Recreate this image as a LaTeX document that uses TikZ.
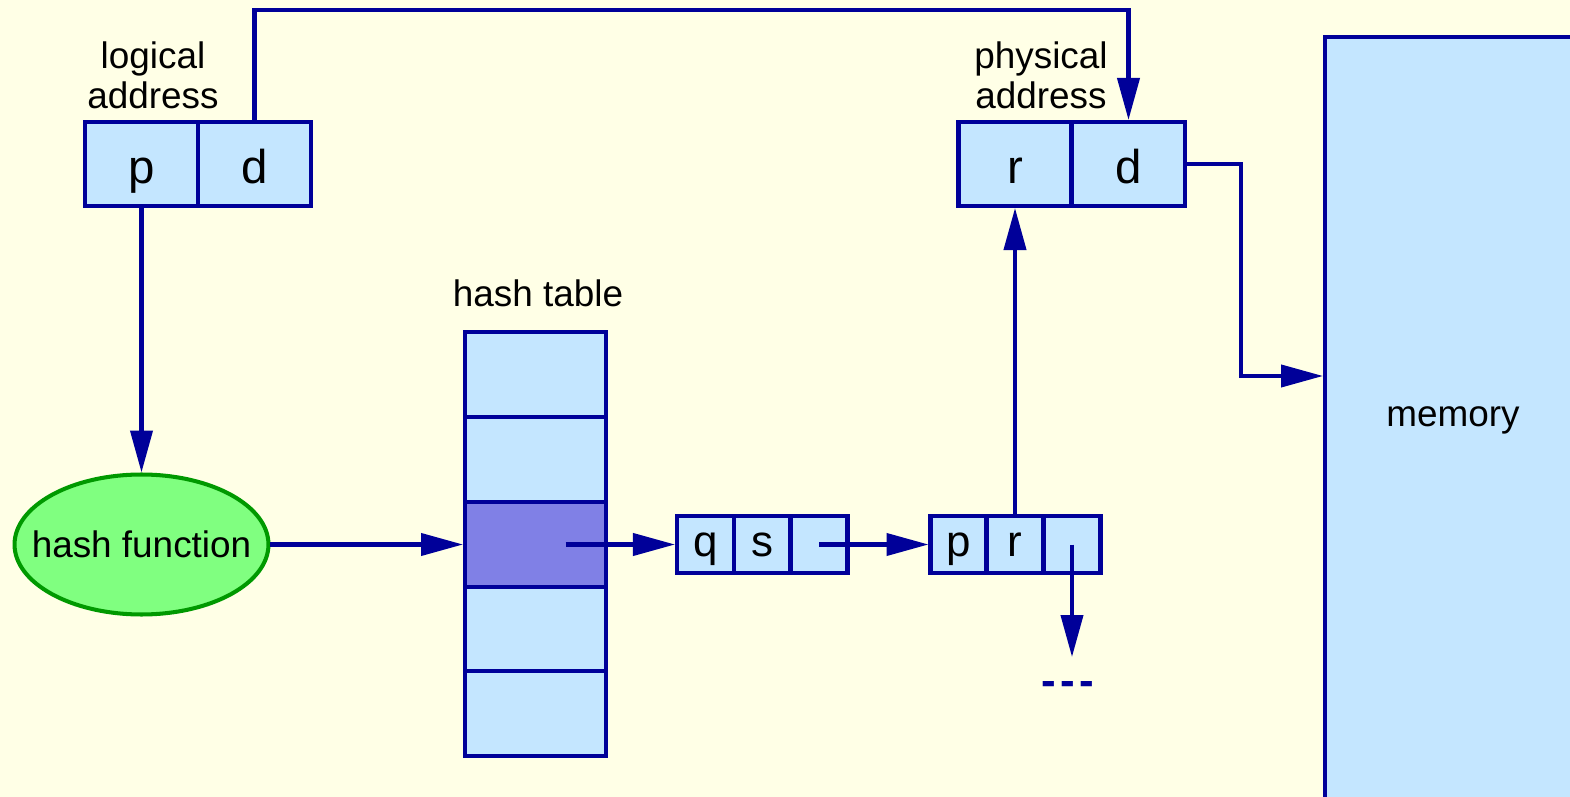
\documentclass[tikz,border=0pt]{standalone}
\usepackage{fontspec}
\setmainfont{Liberation Sans}
\definecolor{bgyellow}{RGB}{255, 255, 230}
\definecolor{boxblue}{RGB}{196, 230, 255}
\definecolor{lineblue}{RGB}{0, 0, 153}
\definecolor{hotcell}{RGB}{128, 128, 230}
\definecolor{hashgreen}{RGB}{128, 255, 128}
\definecolor{hashedge}{RGB}{0, 153, 0}
\usetikzlibrary{shapes.geometric, arrows.meta, positioning, calc}

\begin{document}
\begin{tikzpicture}[x=0.02cm, y=-0.02cm,
    cell/.style={draw=lineblue, fill=boxblue, line width=2.3pt, inner sep=0pt},
    addrcell/.style={cell, minimum width=2.26cm, minimum height=1.68cm, text height=28.4pt, text depth=5.7pt, font=\fontsize{27}{30}\selectfont},
    tabcell/.style={cell, minimum width=2.82cm, minimum height=1.7cm},
    listcell/.style={cell, minimum width=1.14cm, minimum height=1.14cm, text height=18.3pt, text depth=5.2pt, font=\fontsize{25}{28}\selectfont},
    lbl/.style={font=\fontsize{21}{22.7}\selectfont, align=center},
    arr/.style={-{Triangle[length=0.84cm, width=0.44cm]}, lineblue, line width=2.3pt}]
                % Background
                \fill[bgyellow] (0,0) rectangle (1570,797);
                \useasboundingbox (0,0) rectangle (1570,797);
                \clip (0,0) rectangle (1570,797);
                
                % Logical and physical address
                \node[lbl] (loglbl) at (153,75) {logical\\address};
                \node[addrcell] (lp) at (141.5,164) {p};
                \node[addrcell] (ld) at (254.5,164) {d};
                \node[lbl] (physlbl) at (1041,75) {physical\\address};
                \node[addrcell] (pr) at (1015,164) {r};
                \node[addrcell] (pd) at (1128.5,164) {d};
                
                % Hash function
                \node[draw=hashedge, fill=hashgreen, ellipse, line width=2.3pt, minimum width=5.08cm, minimum height=2.8cm, inner sep=0pt,
                      label={[lbl]center:hash function}] (hash) at (141.5,544.5) {};
                
                % Hash table
                \node[lbl] (tablbl) at (538,293) {hash table};
                \foreach \i/\y in {1/374.5, 2/459.5, 3/544.5, 4/629, 5/713.5}
                    \node[tabcell] (h\i) at (535.5,\y) {};
                \node[tabcell, fill=hotcell] (h3) at (535.5,544.5) {};
                
                % Chain entries
                \node[listcell] (q1) at (705.5,544.5) {q};
                \node[listcell] (q2) at (762.5,544.5) {s};
                \node[listcell] (q3) at (819,544.5) {};
                \node[listcell] (l1) at (959,544.5) {p};
                \node[listcell] (l2) at (1015,544.5) {r};
                \node[listcell] (l3) at (1072,544.5) {};
                \node[lbl, text=lineblue, font=\fontsize{25}{28}\selectfont\bfseries] (dots) at (1068,688) {-\kern2.5pt-\kern2.5pt-};
                
                % Memory
                \node[cell, minimum width=5.9cm, minimum height=16.5cm] (mem) at (1472.5,449.5) {};
                \node[lbl] (memlbl) at (1453,420) {memory};
                
                % Arrows
                \coordinate (top) at (700,10);
                \coordinate (bend) at (1241,376);
                \coordinate (listend) at (1072,657);
                \draw[arr] (ld.north) |- (top) -| (pd.north);
                \draw[arr] (lp.south) -- (hash.north);
                \draw[arr] (hash.east) -- (h3.west);
                \draw[arr] ($(h3.center)+(30,0)$) -- (q1.west);
                \draw[arr] (q3.center) -- (l1.west);
                \draw[arr] (l2.north) -- (pr.south);
                \draw[arr] (l3.center) -- (listend);
                \draw[arr] (pd.east) -| (bend) -- (mem.west |- bend);
            \end{tikzpicture}
\end{document}
